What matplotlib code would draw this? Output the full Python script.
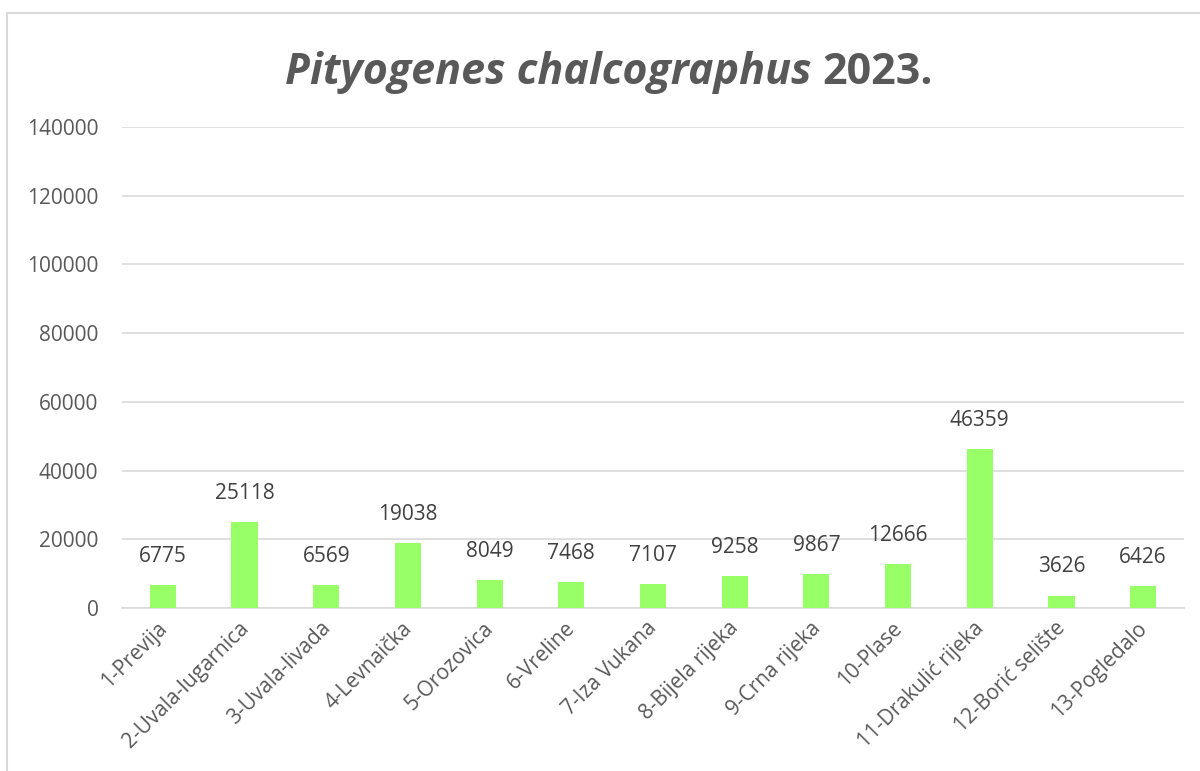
import matplotlib.pyplot as plt
from matplotlib.patches import Rectangle

plt.rcParams['font.family'] = ['Open Sans', 'DejaVu Sans']

# lokaliteti i broj jedinki
lokaliteti = ["1-Previja", "2-Uvala-lugarnica", "3-Uvala-livada", "4-Levnaička",
              "5-Orozovica", "6-Vreline", "7-Iza Vukana", "8-Bijela rijeka",
              "9-Crna rijeka", "10-Plase", "11-Drakulić rijeka", "12-Borić selište",
              "13-Pogledalo"]
broj = [6775, 25118, 6569, 19038, 8049, 7468, 7107, 9258, 9867, 12666, 46359, 3626, 6426]
y_ticks = [0, 20000, 40000, 60000, 80000, 100000, 120000, 140000]

fig = plt.figure(figsize=(12, 7.71), dpi=100)
ax = fig.add_axes([122 / 1200, 163 / 771, 1062 / 1200, 481 / 771])

x = list(range(len(lokaliteti)))
ax.bar(x, broj, width=0.32, color="#99FF66", zorder=3)

for xi, v in zip(x, broj):
    ax.annotate(str(v), (xi, v), xytext=(0, 13), textcoords="offset points",
                ha="center", va="bottom", fontsize=15, color="#404040")

ax.set_xlim(-0.5, len(lokaliteti) - 0.5)
ax.set_ylim(0, 140000)
ax.set_yticks(y_ticks)
ax.set_yticklabels([str(t) for t in y_ticks])
ax.grid(axis="y", color="#d9d9d9", linewidth=1.2, zorder=0)

# nevidljive crtice malo lijevo od stupaca, da natpisi sjednu kao u Excelu
ax.set_xticks([xi - 0.08 for xi in x])
ax.set_xticklabels(lokaliteti, rotation=45, ha="right", rotation_mode="anchor")

ax.tick_params(axis="y", length=0, pad=17, labelsize=15, labelcolor="#595959")
ax.tick_params(axis="x", length=0, pad=7, labelsize=15, labelcolor="#595959")

for s in ["top", "right", "left"]:
    ax.spines[s].set_visible(False)
ax.spines["bottom"].set_color("#d9d9d9")
ax.spines["bottom"].set_linewidth(1.2)

# naslov: italic dio + godina, centrirano zajedno
ty = 1 - 72 / 771
t1 = fig.text(0, ty, "Pityogenes chalcographus ", ha="left", va="center",
              fontsize=31, fontweight="bold", fontstyle="italic", color="#595959")
t2 = fig.text(0, ty, "2023.", ha="left", va="center",
              fontsize=31, fontweight="bold", color="#595959")
fig.canvas.draw()
w1 = t1.get_window_extent().width
w2 = t2.get_window_extent().width
x0 = 609 - (w1 + w2) / 2
t1.set_x(x0 / 1200)
t2.set_x((x0 + w1) / 1200)

# okvir grafikona
fig.add_artist(Rectangle((7 / 1200, -0.1), 1.2, 1 - 13 / 771 + 0.1,
                         transform=fig.transFigure, fill=False,
                         edgecolor="#d9d9d9", linewidth=1.5))

fig.savefig("out.png", dpi=100, facecolor="white")
